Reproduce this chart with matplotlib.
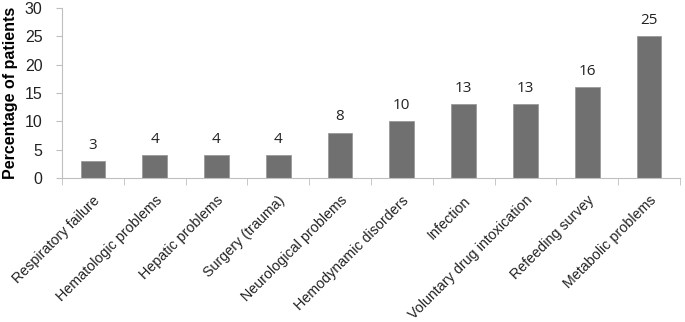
import matplotlib
matplotlib.use("Agg")
import matplotlib.pyplot as plt
import numpy as np

categories = ["Respiratory failure", "Hematologic problems", "Hepatic problems",
              "Surgery (trauma)", "Neurological problems", "Hemodynamic disorders",
              "Infection", "Voluntary drug intoxication", "Refeeding survey",
              "Metabolic problems"]
values = [3, 4, 4, 4, 8, 10, 13, 13, 16, 25]

plt.rcParams['font.family'] = ['Liberation Sans', 'DejaVu Sans']

fig = plt.figure(figsize=(6.85, 3.22), dpi=100)
ax = fig.add_axes([0.0905, 0.447, 0.902, 0.528])

x = np.arange(len(categories))
bars = ax.bar(x, values, width=0.4, color='#707070', edgecolor='#9a9a9a', linewidth=0.6, zorder=2)
for xi, v in zip(x, values):
    ax.text(xi, v + 1.5, str(v), ha='center', va='bottom', fontsize=11, color='#222222',
            family=['Open Sans', 'DejaVu Sans'])

ax.set_xlim(-0.5, len(categories) - 0.5)
ax.set_ylim(0, 30)
ax.set_yticks(np.arange(0, 31, 5))
ax.tick_params(axis='y', labelsize=11.5, length=4, color='#bfbfbf', pad=10, labelcolor='#222222')

ax.set_xticks(x)
ax.set_xticklabels(categories, rotation=45, ha='right', rotation_mode='anchor', fontsize=10.3)
ax.tick_params(axis='x', length=0, pad=11, labelcolor='#222222')
ax.set_xticks(np.arange(-0.5, len(categories) + 0.5, 1), minor=True)
ax.tick_params(axis='x', which='minor', length=5, color='#bfbfbf', direction='out')

for side in ['top', 'right']:
    ax.spines[side].set_visible(False)
ax.spines['left'].set_color('#bfbfbf')
ax.spines['bottom'].set_color('#bfbfbf')

ax.set_ylabel("Percentage of patients", fontsize=11.5, fontweight='bold', labelpad=5)

fig.savefig("out.png", dpi=100)
